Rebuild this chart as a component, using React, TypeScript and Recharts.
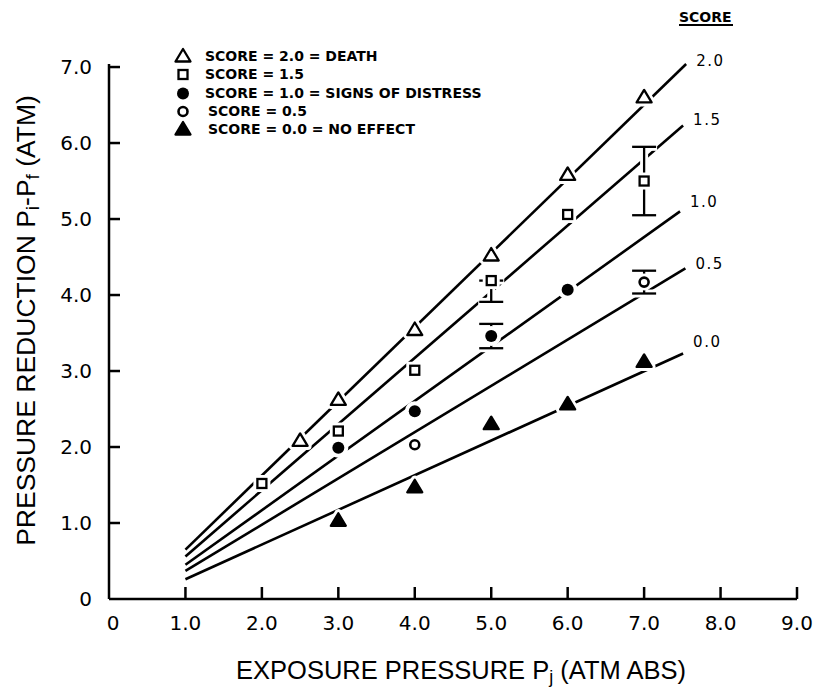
import React from "react";
import {
  ComposedChart,
  Line,
  Scatter,
  XAxis,
  YAxis,
  ErrorBar,
  Legend,
  LabelList,
  Label,
} from "recharts";

const FONT = "'DejaVu Sans', sans-serif";
const TITLE_FONT = "'Liberation Sans', Arial, sans-serif";

// axis ticks
const xTicks = [0, 1, 2, 3, 4, 5, 6, 7, 8, 9];
const xTickLabels = ["0", "1.0", "2.0", "3.0", "4.0", "5.0", "6.0", "7.0", "8.0", "9.0"];
const yTicks = [0, 1, 2, 3, 4, 5, 6, 7];
const yTickLabels = ["0", "1.0", "2.0", "3.0", "4.0", "5.0", "6.0", "7.0"];

// scores
const scoreLabels = ["2.0", "1.5", "1.0", "0.5", "0.0"];
const legendLabels = [
  "SCORE = 2.0 = DEATH",
  "SCORE = 1.5",
  "SCORE = 1.0 = SIGNS OF DISTRESS",
  "SCORE = 0.5",
  "SCORE = 0.0 = NO EFFECT",
];

// fitted lines (start at 1.0 atm, end near 7.5 atm)
const fitStartX = [1.0, 1.0, 1.0, 1.0, 1.0];
const fitStartY = [0.65, 0.56, 0.45, 0.37, 0.26];
const fitEndX = [7.55, 7.51, 7.47, 7.54, 7.51];
const fitEndY = [7.04, 6.23, 5.1, 4.35, 3.23];

// observed points
const deathX = [2.5, 3, 4, 5, 6, 7];
const deathY = [2.08, 2.62, 3.54, 4.52, 5.58, 6.6];

const score15X = [2, 3, 4, 5, 6, 7];
const score15Y = [1.52, 2.21, 3.01, 4.19, 5.06, 5.5];
const score15Err: (number | number[] | null)[] = [null, null, null, [0.28, 0], null, 0.45];

const distressX = [3, 4, 5, 6];
const distressY = [1.99, 2.47, 3.46, 4.07];
const distressErr: (number | null)[] = [null, null, 0.16, null];

const score05X = [4, 7];
const score05Y = [2.03, 4.17];
const score05Err: (number | null)[] = [null, 0.15];

const noEffectX = [3, 4, 5, 6, 7];
const noEffectY = [1.03, 1.47, 2.3, 2.56, 3.12];

const fits = scoreLabels.map((_, i) => [
  { x: fitStartX[i], y: fitStartY[i] },
  { x: fitEndX[i], y: fitEndY[i] },
]);

const toPoints = (xs: number[], ys: number[], errs?: any[]) =>
  xs.map((x, i) => ({ x, y: ys[i], err: errs ? errs[i] : null }));

type Kind = "openTri" | "openSq" | "fillCirc" | "openCirc" | "fillTri";

const series: { kind: Kind; data: any[]; hasErr: boolean }[] = [
  { kind: "fillTri", data: toPoints(noEffectX, noEffectY), hasErr: false },
  { kind: "openCirc", data: toPoints(score05X, score05Y, score05Err), hasErr: true },
  { kind: "fillCirc", data: toPoints(distressX, distressY, distressErr), hasErr: true },
  { kind: "openSq", data: toPoints(score15X, score15Y, score15Err), hasErr: true },
  { kind: "openTri", data: toPoints(deathX, deathY), hasErr: false },
];

// marker drawing
function marker(kind: Kind, cx: number, cy: number, halo: boolean) {
  const stroke = halo ? "#fff" : "#000";
  const sw = halo ? 8 : 2.3;
  switch (kind) {
    case "openTri":
    case "fillTri": {
      const pts = `${cx},${cy - 7.5} ${cx - 7.5},${cy + 5} ${cx + 7.5},${cy + 5}`;
      const fill = halo ? "#fff" : kind === "fillTri" ? "#000" : "#fff";
      return <polygon points={pts} fill={fill} stroke={stroke} strokeWidth={sw} strokeLinejoin="round" />;
    }
    case "openSq":
      return <rect x={cx - 4.5} y={cy - 4.5} width={9} height={9} fill="#fff" stroke={stroke} strokeWidth={sw} />;
    case "fillCirc":
      return <circle cx={cx} cy={cy} r={6} fill={halo ? "#fff" : "#000"} stroke={stroke} strokeWidth={halo ? sw : 0} />;
    case "openCirc":
      return <circle cx={cx} cy={cy} r={4.5} fill="#fff" stroke={stroke} strokeWidth={halo ? sw : 2.6} />;
  }
}

const haloShape = (kind: Kind) => (props: any) => <g>{marker(kind, props.cx, props.cy, true)}</g>;
const markShape = (kind: Kind) => (props: any) => <g>{marker(kind, props.cx, props.cy, false)}</g>;

const legendKinds: Kind[] = ["openTri", "openSq", "fillCirc", "openCirc", "fillTri"];

const LegendBox = () => (
  <div style={{ fontFamily: FONT, fontWeight: 700, fontSize: 14, color: "#000" }}>
    {legendLabels.map((label, i) => (
      <div key={label} style={{ display: "flex", alignItems: "center", height: 18.3 }}>
        <svg width={22} height={18} style={{ display: "block" }}>
          {marker(legendKinds[i], 11, 9.5, false)}
        </svg>
        <span style={{ marginLeft: i >= 3 ? 14 : 11, whiteSpace: "nowrap" }}>{label}</span>
      </div>
    ))}
  </div>
);

const XTick = (props: any) => {
  const { x, y, payload, index } = props;
  return (
    <g>
      {payload.value !== 0 && (
        <line x1={x} x2={x} y1={y} y2={y - 12} stroke="#000" strokeWidth={2.5} />
      )}
      <text x={payload.value === 0 ? x + 4 : x} y={y + 31} textAnchor="middle" fontFamily={FONT} fontSize={20} fill="#000">
        {xTickLabels[index] ?? payload.value}
      </text>
    </g>
  );
};

const YTick = (props: any) => {
  const { x, y, payload, index } = props;
  return (
    <g>
      {payload.value !== 0 && (
        <line x1={x} x2={x + 11} y1={y} y2={y} stroke="#000" strokeWidth={2.5} />
      )}
      <text x={x - 17} y={y + 7} textAnchor="end" fontFamily={FONT} fontSize={20} fill="#000">
        {yTickLabels[index] ?? payload.value}
      </text>
    </g>
  );
};

const XTitle = (props: any) => {
  const vb = props.viewBox;
  return (
    <text
      x={vb.x + vb.width / 2 + 8}
      y={vb.y + 80}
      textAnchor="middle"
      fontFamily={TITLE_FONT}
      fontSize={25.5}
      fill="#000"
    >
      EXPOSURE PRESSURE P
      <tspan dy={4} fontSize={18}>j</tspan>
      <tspan dy={-4}> (ATM ABS)</tspan>
    </text>
  );
};

const YTitle = (props: any) => {
  const vb = props.viewBox;
  const cx = 26;
  const cy = vb.y + vb.height / 2 - 11;
  return (
    <text
      x={cx}
      y={cy}
      transform={`rotate(-90 ${cx} ${cy})`}
      textAnchor="middle"
      dominantBaseline="central"
      fontFamily={TITLE_FONT}
      fontSize={26.5}
      fill="#000"
    >
      PRESSURE REDUCTION P
      <tspan dy={6} fontSize={19}>i</tspan>
      <tspan dy={-6}>-P</tspan>
      <tspan dy={6} fontSize={19}>f</tspan>
      <tspan dy={-6}> (ATM)</tspan>
    </text>
  );
};

const labelDy = [3, 0, -3, 2, -6];

const endLabel = (i: number) => (p: any) => {
  if (p.value !== fitEndY[i]) return null;
  const px = p.x ?? p.viewBox?.x;
  const py = p.y ?? p.viewBox?.y;
  return (
    <text
      x={px + 10}
      y={py - 1 + labelDy[i]}
      fontFamily={FONT}
      fontSize={15}
      letterSpacing={1.5}
      fill="#000"
    >
      {scoreLabels[i]}
    </text>
  );
};

export default function App() {
  return (
    <div style={{ position: "absolute", left: 0, top: 0, width: 820, height: 688, background: "#fff" }}>
      <ComposedChart
        width={820}
        height={688}
        margin={{ top: 64, right: 23, bottom: 49, left: 49 }}
      >
        <XAxis
          type="number"
          dataKey="x"
          domain={[0, 9]}
          ticks={xTicks}
          interval={0}
          height={40}
          tickSize={0}
          tickMargin={0}
          tickLine={false}
          axisLine={{ stroke: "#000", strokeWidth: 2.5 }}
          tick={<XTick />}
        >
          <Label content={<XTitle />} />
        </XAxis>
        <YAxis
          type="number"
          dataKey="y"
          domain={[0, 7]}
          ticks={yTicks}
          interval={0}
          width={60}
          tickSize={0}
          tickMargin={0}
          tickLine={false}
          axisLine={{ stroke: "#000", strokeWidth: 2.5 }}
          tick={<YTick />}
        >
          <Label content={<YTitle />} />
        </YAxis>
        <Legend
          layout="vertical"
          align="center"
          verticalAlign="middle"
          wrapperStyle={{ top: 47, left: 172, width: 340 }}
          content={() => <LegendBox />}
        />

        {fits.map((d, i) => (
          <Line
            key={scoreLabels[i]}
            data={d}
            dataKey="y"
            stroke="#000"
            strokeWidth={2.6}
            dot={false}
            isAnimationActive={false}
            legendType="none"
          >
            <LabelList dataKey="y" content={endLabel(i)} />
          </Line>
        ))}

        {/* white halos and error bars, then the markers on top */}
        {series.map((s) => (
          <Scatter
            key={"halo-" + s.kind}
            data={s.data}
            dataKey="y"
            shape={haloShape(s.kind)}
            isAnimationActive={false}
            legendType="none"
          >
            {s.hasErr && <ErrorBar dataKey="err" direction="y" width={13} stroke="#fff" strokeWidth={8} />}
            {s.hasErr && <ErrorBar dataKey="err" direction="y" width={12} stroke="#000" strokeWidth={2.3} />}
          </Scatter>
        ))}
        {series.map((s) => (
          <Scatter
            key={"mark-" + s.kind}
            data={s.data}
            dataKey="y"
            shape={markShape(s.kind)}
            isAnimationActive={false}
            legendType="none"
          />
        ))}

        <text x={679} y={22} fontFamily={FONT} fontWeight={700} fontSize={14} fill="#000">
          SCORE
        </text>
        <line x1={679} x2={733} y1={25} y2={25} stroke="#000" strokeWidth={2} />
      </ComposedChart>
    </div>
  );
}
